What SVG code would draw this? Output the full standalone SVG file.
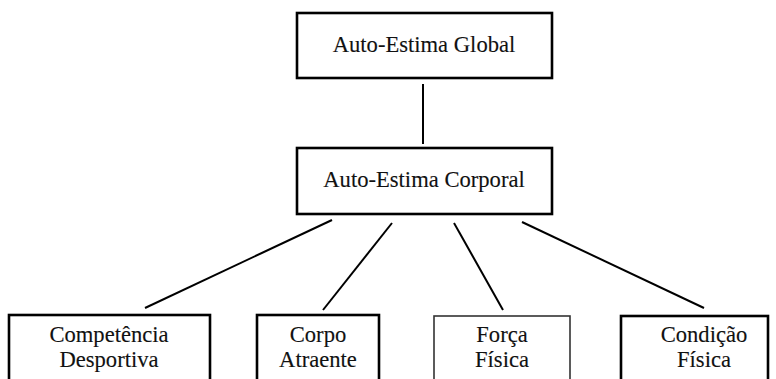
<svg xmlns="http://www.w3.org/2000/svg" width="776" height="379" viewBox="0 0 776 379">
<style>
.box{fill:#fff;stroke:#000;stroke-width:2.6}
.thin{fill:#fff;stroke:#333;stroke-width:1.6}
.lbl{font-family:"Liberation Serif","DejaVu Serif",serif;font-size:22.6px;fill:#111;stroke:#111;stroke-width:0.12;text-anchor:middle}
.edge{stroke:#000;stroke-width:2;fill:none}
</style>
<rect width="776" height="379" fill="#fff"/>
<g id="connectors">
<line class="edge" x1="423" y1="84" x2="423" y2="144"/>
<line class="edge" x1="332" y1="220" x2="145" y2="308"/>
<line class="edge" x1="392" y1="223" x2="323" y2="310"/>
<line class="edge" x1="454" y1="223" x2="503" y2="310"/>
<line class="edge" x1="522" y1="222" x2="704" y2="308"/>
</g>
<g id="global">
<rect class="box" x="297" y="13" width="255" height="65"/>
<text class="lbl" x="424" y="52">Auto-Estima Global</text>
</g>
<g id="corporal">
<rect class="box" x="297" y="148" width="255" height="66"/>
<text class="lbl" x="424" y="187">Auto-Estima Corporal</text>
</g>
<g id="competencia">
<rect class="box" x="9" y="315" width="201" height="80"/>
<text class="lbl" x="109" y="342">Competência</text>
<text class="lbl" x="109" y="367">Desportiva</text>
</g>
<g id="corpo">
<rect class="box" x="257" y="315" width="122" height="80"/>
<text class="lbl" x="318" y="342">Corpo</text>
<text class="lbl" x="318" y="367">Atraente</text>
</g>
<g id="forca">
<rect class="thin" x="434" y="316" width="136" height="80"/>
<text class="lbl" x="502" y="342">Força</text>
<text class="lbl" x="502" y="367">Física</text>
</g>
<g id="condicao">
<rect class="box" x="621" y="316" width="147" height="80"/>
<text class="lbl" x="704" y="342">Condição</text>
<text class="lbl" x="704" y="367">Física</text>
</g>
</svg>
